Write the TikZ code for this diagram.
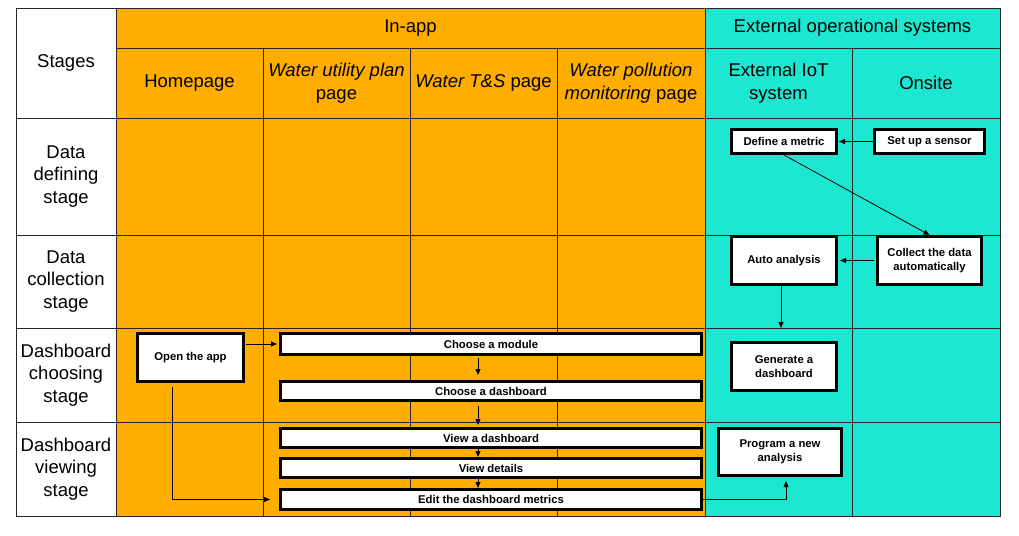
\documentclass[tikz,border=0pt]{standalone}
\usepackage{fontspec}
\setmainfont{Liberation Sans}
\usetikzlibrary{arrows.meta}
\definecolor{inapp}{RGB}{255,174,0}
\definecolor{extsys}{RGB}{28,232,210}
\begin{document}
\begin{tikzpicture}[x = 1pt, y = -1pt,
	hdr/.style = {font = \fontsize{18.5}{22.5}\selectfont, align = center, inner sep = 0pt},
	stagebox/.style = {draw, line width = 3pt, fill = white, inner sep = 1pt, align = center,
		font = \fontsize{11.3}{14.5}\selectfont\bfseries},
	grid/.style = {draw = black!85, line width = 0.9pt},
	arr/.style = {-{Triangle[length = 6pt, width = 5pt]}, line width = 0.8pt}]
	\useasboundingbox (0,0) rectangle (1019,535);
	\fill[white] (16,8) rectangle (116,516);
	\fill[inapp] (116,8) rectangle (705,516);
	\fill[extsys] (705,8) rectangle (1000,516);
	\draw[grid] (16,8) rectangle (1000,516)
		(116,48) -- (1000,48)
		(16,118) -- (1000,118)
		(16,235) -- (1000,235)
		(16,328) -- (1000,328)
		(16,422) -- (1000,422)
		(116,8) -- (116,516)
		(705,8) -- (705,516)
		(263,48) -- (263,516)
		(410,48) -- (410,516)
		(557,48) -- (557,516)
		(852,48) -- (852,516);
	\node[hdr] (stages) at (66,63) {Stages};
	\node[hdr] (inapphdr) at (410.5,28) {In-app};
	\node[hdr] (exthdr) at (852.5,28) {External operational systems};
	\node[hdr] (homepage) at (189.5,83) {Homepage};
	\node[hdr] (utilpage) at (336.5,83) {\itshape Water utility plan\\page};
	\node[hdr] (tspage) at (483.5,83) {{\itshape Water T\&S} page};
	\node[hdr] (pollpage) at (631,83) {\itshape Water pollution\\{\itshape monitoring} page};
	\node[hdr] (iotsys) at (778.5,83) {External IoT\\system};
	\node[hdr] (onsite) at (926,83) {Onsite};
	\node[hdr] (defstage) at (66,176.5) {Data\\defining\\stage};
	\node[hdr] (colstage) at (66,281.5) {Data\\collection\\stage};
	\node[hdr] (choosestage) at (66,375) {Dashboard\\choosing\\stage};
	\node[hdr] (viewstage) at (66,469) {Dashboard\\viewing\\stage};
	\node[stagebox, minimum width = 105pt, minimum height = 24pt] (metric) at (784,141.5) {Define a metric};
	\node[stagebox, minimum width = 110pt, minimum height = 24pt] (sensor) at (929.5,141.5) {Set up a sensor};
	\node[stagebox, minimum width = 105pt, minimum height = 48pt] (auto) at (784,260.5) {Auto analysis};
	\node[stagebox, minimum width = 104pt, minimum height = 48pt] (collect) at (929.5,260.5) {Collect the data\\automatically};
	\node[stagebox, minimum width = 105pt, minimum height = 48pt] (generate) at (784,366.5) {Generate a\\dashboard};
	\node[stagebox, minimum width = 123pt, minimum height = 47pt] (program) at (780,452) {Program a new\\analysis};
	\node[stagebox, minimum width = 106pt, minimum height = 48pt] (open) at (190.5,357.5) {Open the app};
	\node[stagebox, minimum width = 421pt, minimum height = 21pt] (module) at (491,344) {Choose a module};
	\node[stagebox, minimum width = 421pt, minimum height = 19pt] (dashchoose) at (491,391) {Choose a dashboard};
	\node[stagebox, minimum width = 421pt, minimum height = 19pt] (dashview) at (491,438) {View a dashboard};
	\node[stagebox, minimum width = 421pt, minimum height = 19pt] (details) at (491,468) {View details};
	\node[stagebox, minimum width = 421pt, minimum height = 20pt] (edit) at (491,499.5) {Edit the dashboard metrics};
	\coordinate (autoend) at (781,328);
	\draw[arr, shorten > = 1pt] (sensor.west) -- (metric.east);
	\draw[arr] (metric.south) -- (collect.north);
	\draw[arr, shorten > = 2pt, shorten < = 2pt] (collect.west) -- (auto.east);
	\draw[arr] (autoend |- auto.south) -- (autoend);
	\draw[arr, shorten > = 2pt, shorten < = 1pt] (open.east |- module.west) -- (module.west);
	\draw[arr, shorten > = 9pt, shorten < = 4pt] ([xshift = -18pt]open.south) |- (edit.west);
	\draw[arr, shorten > = 5pt, shorten < = 2pt] ([xshift = -13pt]module.south) -- ([xshift = -13pt]dashchoose.north);
	\draw[arr, shorten > = 2pt, shorten < = 4pt] ([xshift = -13pt]dashchoose.south) -- ([xshift = -13pt]dashview.north);
	\draw[arr] ([xshift = -13pt]dashview.south) -- ([xshift = -13pt]details.north);
	\draw[arr] ([xshift = -13pt]details.south) -- ([xshift = -13pt]edit.north);
	\draw[arr, shorten > = 4pt] (edit.east) -| ([xshift = 6pt]program.south);
\end{tikzpicture}
\end{document}
